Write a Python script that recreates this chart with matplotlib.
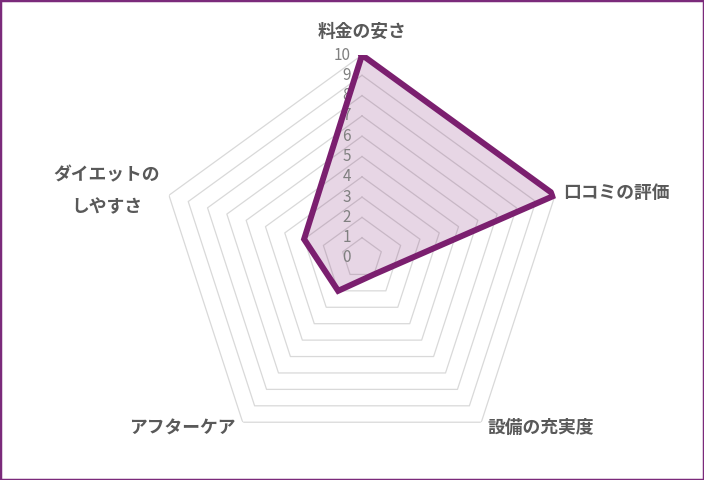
import matplotlib.pyplot as plt
import matplotlib.patches as patches
import matplotlib.transforms as mtransforms
import numpy as np

plt.rcParams['font.family'] = ['Noto Sans CJK JP', 'DejaVu Sans']

categories = ["料金の安さ", "口コミの評価", "設備の充実度", "アフターケア", "ダイエットの\nしやすさ"]
values = [10, 10, 1, 2, 3]
rings = [1, 2, 3, 4, 5, 6, 7, 8, 9, 10]
tick_labels = ["0", "1", "2", "3", "4", "5", "6", "7", "8", "9", "10"]

line_color = "#7b1f6f"
grid_color = "#d9d9d9"
text_color = "#595959"

n = len(categories)
theta = np.linspace(0, 2 * np.pi, n, endpoint=False)
theta_closed = np.append(theta, theta[0])

fig = plt.figure(figsize=(7.04, 4.8), dpi=100)
ax = fig.add_axes([362 / 704 - 203 / 704, 19 / 480, 406 / 704, 406 / 480], projection="polar")
ax.set_theta_zero_location("N")
ax.set_theta_direction(-1)
ax.set_ylim(0, 10)
ax.grid(False)
ax.spines["polar"].set_visible(False)
ax.set_xticks([])
ax.set_yticks([])
ax.patch.set_alpha(0)

# pentagon gridlines
for r in rings:
    ax.plot(theta_closed, [r] * (n + 1), color=grid_color, lw=0.9, zorder=1)

# radial tick labels
tick_tr = mtransforms.offset_copy(ax.transData, fig=fig, x=-11, y=0, units="dots")
for i, lab in enumerate(tick_labels):
    ax.text(0, i, lab, transform=tick_tr, ha="right", va="center",
            fontsize=11, color="#808080")

# data
vals_closed = values + values[:1]
ax.fill(theta_closed, vals_closed, color=line_color, alpha=0.18, lw=0, zorder=2)
ax.plot(theta_closed, vals_closed, color=line_color, lw=4.3,
        solid_joinstyle="miter", zorder=3)

# category labels
label_spec = [
    (0, 23, "center"),
    (8, 2, "left"),
    (6, -6, "left"),
    (-7, -6, "right"),
    (-9, 4, "right"),
]
for t, lab, (dx, dy, ha) in zip(theta, categories, label_spec):
    tr = mtransforms.offset_copy(ax.transData, fig=fig, x=dx, y=dy, units="dots")
    ax.text(t, 10, lab, transform=tr, ha=ha, va="center", multialignment="center",
            fontsize=12.8, fontweight="bold", color=text_color, linespacing=1.95)

fig.patches.append(patches.Rectangle((0, 0), 1, 1, transform=fig.transFigure,
                                     fill=False, edgecolor="#7b2a7b", lw=2.5))

fig.savefig("out.png", dpi=100)
